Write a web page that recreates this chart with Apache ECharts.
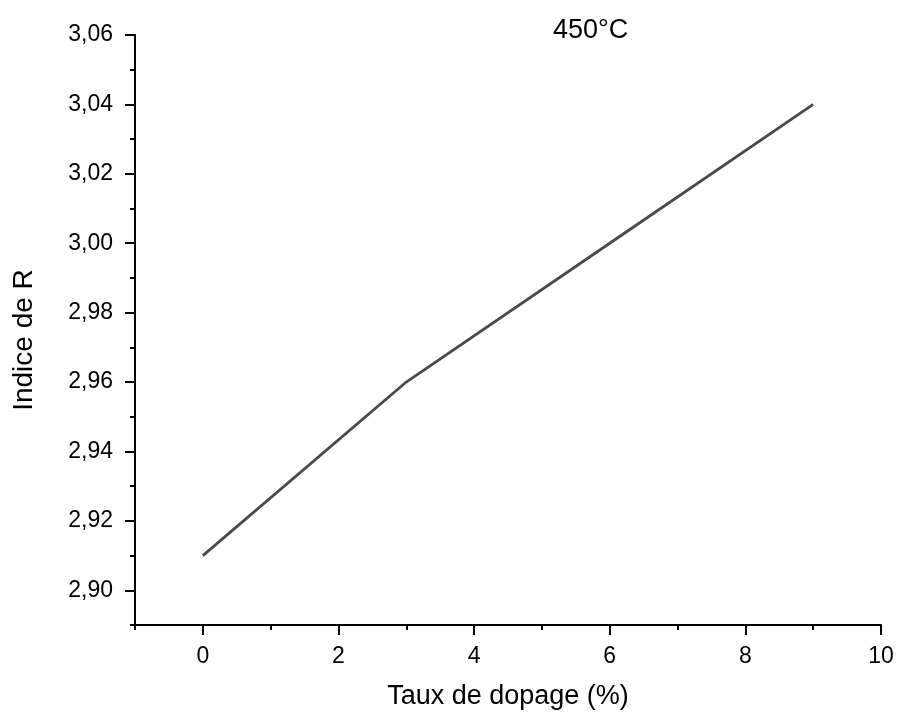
<!DOCTYPE html>
<html>
<head>
<meta charset="utf-8">
<script src="https://cdn.jsdelivr.net/npm/echarts@6/dist/echarts.min.js"></script>
<style>
html,body{margin:0;padding:0;background:#fff;}
#chart{width:897px;height:715px;}
</style>
</head>
<body>
<div id="chart"></div>
<script>
const dopingRates = [0, 3, 6, 9];
const rIndex = [2.91, 2.96, 3.00, 3.04];
const xMajorTicks = [0, 2, 4, 6, 8, 10];
const xMinorTicks = [-1, 1, 3, 5, 7, 9];
const yMajorTicks = [2.90, 2.92, 2.94, 2.96, 2.98, 3.00, 3.02, 3.04, 3.06];
const yMinorTicks = [2.89, 2.91, 2.93, 2.95, 2.97, 2.99, 3.01, 3.03, 3.05];
const titleText = '450°C';
const xName = 'Taux de dopage (%)';
const yName = 'Indice de R';

const FONT = 'Liberation Sans, Arial, sans-serif';
const chart = echarts.init(document.getElementById('chart'), null, {renderer: 'canvas'});
const axisLineStyle = {color: '#000', width: 2};

chart.setOption({
  animation: false,
  backgroundColor: '#fff',
  title: {
    text: titleText,
    left: 553,
    top: 17,
    padding: 0,
    textStyle: {fontFamily: FONT, fontSize: 27, fontWeight: 'normal', color: '#000'}
  },
  grid: {left: 135, right: 16, top: 35, bottom: 88},
  xAxis: [
    {
      type: 'value', position: 'bottom', min: -1, max: 10,
      name: xName, nameLocation: 'middle', nameGap: 58,
      nameTextStyle: {fontFamily: FONT, fontSize: 27, color: '#000'},
      axisLine: {show: true, onZero: false, lineStyle: axisLineStyle},
      axisTick: {show: true, inside: false, length: 10, lineStyle: axisLineStyle, customValues: xMajorTicks},
      axisLabel: {show: true, margin: 20, fontFamily: FONT, fontSize: 23, color: '#000', customValues: xMajorTicks,
        formatter: v => String(v)},
      splitLine: {show: false}
    },
    {
      type: 'value', position: 'bottom', min: -1, max: 10,
      axisLine: {show: false, onZero: false},
      axisTick: {show: true, inside: false, length: 5, lineStyle: axisLineStyle, customValues: xMinorTicks},
      axisLabel: {show: false},
      splitLine: {show: false}
    }
  ],
  yAxis: [
    {
      type: 'value', position: 'left', min: 2.89, max: 3.06,
      name: yName, nameLocation: 'middle', nameGap: 97, nameRotate: 90,
      nameTextStyle: {fontFamily: FONT, fontSize: 28, color: '#000', padding: [0, 20, 0, 0]},
      axisLine: {show: true, onZero: false, lineStyle: axisLineStyle},
      axisTick: {show: true, inside: false, length: 10, lineStyle: axisLineStyle, customValues: yMajorTicks},
      axisLabel: {show: true, margin: 22, fontFamily: FONT, fontSize: 23, color: '#000', customValues: yMajorTicks,
        formatter: v => v.toFixed(2).replace('.', ',')},
      splitLine: {show: false}
    },
    {
      type: 'value', position: 'left', min: 2.89, max: 3.06,
      axisLine: {show: false, onZero: false},
      axisTick: {show: true, inside: false, length: 5, lineStyle: axisLineStyle, customValues: yMinorTicks},
      axisLabel: {show: false},
      splitLine: {show: false}
    }
  ],
  series: [{
    type: 'line',
    xAxisIndex: 0,
    yAxisIndex: 0,
    data: dopingRates.map((x, i) => [x, rIndex[i]]),
    showSymbol: false,
    symbol: 'none',
    lineStyle: {color: '#4a4a4a', width: 2.8},
    z: 3
  }]
});
</script>
</body>
</html>
